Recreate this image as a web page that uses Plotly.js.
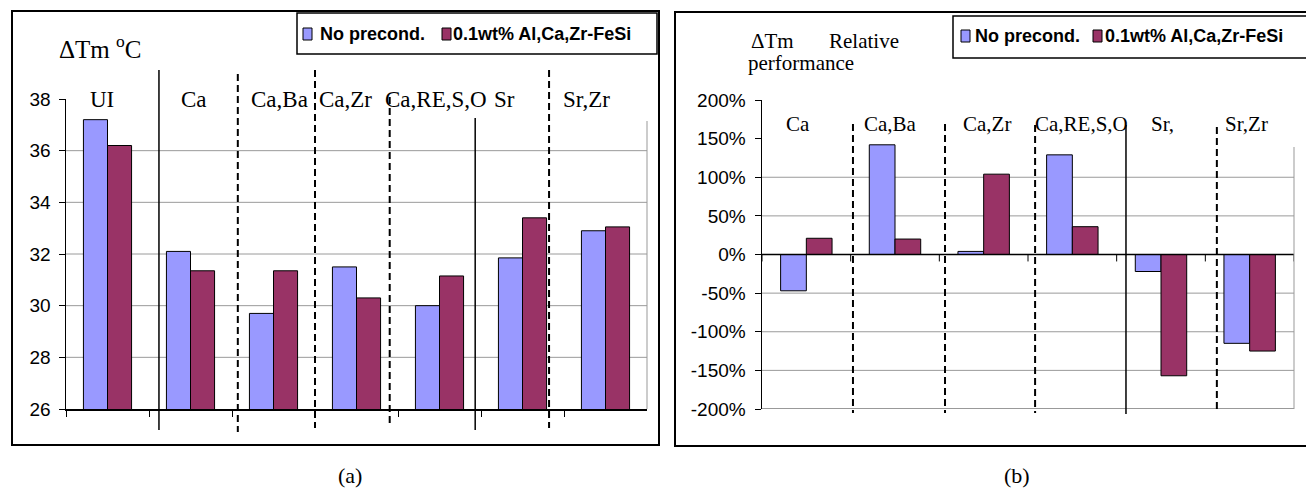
<!DOCTYPE html>
<html><head><meta charset="utf-8">
<script src="https://cdn.plot.ly/plotly-3.0.1.min.js"></script>
<style>html,body{margin:0;padding:0;background:#fff}#chart{width:1306px;height:488px}</style>
</head><body><div id="chart"></div>
<script>
// ---- data ----
const seriesNames = ['No precond.', '0.1wt% Al,Ca,Zr-FeSi'];
const catsA = ['UI', 'Ca', 'Ca,Ba', 'Ca,Zr', 'Ca,RE,S,O', 'Sr', 'Sr,Zr'];
const noPrecondA = [37.2, 32.1, 29.7, 31.5, 30.0, 31.85, 32.9];
const precondA = [36.2, 31.35, 31.35, 30.3, 31.15, 33.4, 33.05];
const catsB = ['Ca', 'Ca,Ba', 'Ca,Zr', 'Ca,RE,S,O', 'Sr,', 'Sr,Zr'];
const noPrecondB = [-47, 142, 4, 129, -22, -115];
const precondB = [21, 20, 104, 36, -157, -125];
const yTicksA = [26, 28, 30, 32, 34, 36, 38];
const gridA = [28, 30, 32, 34, 36];
const yTicksB = [-200, -150, -100, -50, 0, 50, 100, 150, 200];
const yTickTextB = ['-200%', '-150%', '-100%', '-50%', '0%', '50%', '100%', '150%', '200%'];
const gridB = [-200, -150, -100, -50, 50, 100];
const titleA = 'ΔTm <sup>o</sup>C';
const titleB = ['ΔTm', 'Relative', 'performance'];
const captions = ['(a)', '(b)'];

// ---- layout helpers ----
const W = 1306, H = 488;
const px = x => x / W;
const py = y => 1 - y / H;
const BLUE = '#9999FF', RED = '#993366';
const serif = 'Liberation Serif, Times New Roman, serif';
const sans = 'Liberation Sans, Arial, sans-serif';

const traces = [
  {type: 'bar', x: catsA, y: noPrecondA, name: seriesNames[0], xaxis: 'x', yaxis: 'y',
   marker: {color: BLUE, line: {color: '#000', width: 1}}, showlegend: false, hoverinfo: 'skip'},
  {type: 'bar', x: catsA, y: precondA, name: seriesNames[1], xaxis: 'x', yaxis: 'y',
   marker: {color: RED, line: {color: '#000', width: 1}}, showlegend: false, hoverinfo: 'skip'},
  {type: 'bar', x: catsB, y: noPrecondB, name: seriesNames[0], xaxis: 'x2', yaxis: 'y2',
   marker: {color: BLUE, line: {color: '#000', width: 1}}, showlegend: false, hoverinfo: 'skip'},
  {type: 'bar', x: catsB, y: precondB, name: seriesNames[1], xaxis: 'x2', yaxis: 'y2',
   marker: {color: RED, line: {color: '#000', width: 1}}, showlegend: false, hoverinfo: 'skip'}
];

const shapes = [];
const annotations = [];

// frames
shapes.push({type: 'rect', xref: 'paper', yref: 'paper', x0: px(12), x1: px(659), y0: py(11), y1: py(445), line: {color: '#000', width: 2}});
shapes.push({type: 'rect', xref: 'paper', yref: 'paper', x0: px(675), x1: px(1320), y0: py(12), y1: py(446), line: {color: '#000', width: 2}});

// gridlines
gridA.forEach(v => shapes.push({type: 'line', xref: 'x domain', yref: 'y', x0: 0, x1: 1, y0: v, y1: v, layer: 'below', line: {color: '#9a9a9a', width: 1}}));
gridB.forEach(v => shapes.push({type: 'line', xref: 'x2 domain', yref: 'y2', x0: 0, x1: 1, y0: v, y1: v, layer: 'below', line: {color: v === -200 ? '#777' : '#9a9a9a', width: v === -200 ? 1.5 : 1}}));

// category axis of (b) sits at 0 %: axis line + boundary ticks
shapes.push({type: 'line', xref: 'x2 domain', yref: 'y2', x0: 0, x1: 1, y0: 0, y1: 0, layer: 'above', line: {color: '#000', width: 1.5}});
for (let i = 0; i <= catsB.length; i++) {
  shapes.push({type: 'line', xref: 'x2', yref: 'y2', x0: i - 0.5, x1: i - 0.5, y0: 0, y1: -9, layer: 'above', line: {color: '#000', width: 1}});
}

// right plot borders (grey)
shapes.push({type: 'line', xref: 'paper', yref: 'paper', x0: px(647), x1: px(647), y0: py(121), y1: py(409), line: {color: '#999', width: 1}});
shapes.push({type: 'line', xref: 'paper', yref: 'paper', x0: px(1294), x1: px(1294), y0: py(147), y1: py(409), line: {color: '#999', width: 1}});

// dividers (category index positions)
const divA = [[0.62, 70, 430, 'solid'], [1.57, 74, 432, 'dash'], [2.5, 70, 428, 'dash'], [3.4, 97, 424, 'dash'], [4.43, 118, 430, 'solid'], [5.32, 70, 428, 'dash']];
const divB = [[0.526, 124, 413, 'dash'], [1.564, 124, 413, 'dash'], [2.58, 125, 413, 'dash'], [3.605, 125, 414, 'solid'], [4.63, 127, 413, 'dash']];
divA.forEach(d => shapes.push({type: 'line', xref: 'x', yref: 'paper', x0: d[0], x1: d[0], y0: py(d[1]), y1: py(d[2]),
  line: {color: '#000', width: d[3] === 'solid' ? 1.5 : 2, dash: d[3] === 'solid' ? 'solid' : '7px,4px'}}));
divB.forEach(d => shapes.push({type: 'line', xref: 'x2', yref: 'paper', x0: d[0], x1: d[0], y0: py(d[1]), y1: py(d[2]),
  line: {color: '#000', width: d[3] === 'solid' ? 1.5 : 2, dash: d[3] === 'solid' ? 'solid' : '7px,4px'}}));

// category labels
const labA = [102, 194, 279, 345, 436, 504, 586];
const labB = [798, 890, 987, 1081, 1162, 1246];
catsA.forEach((c, i) => annotations.push({xref: 'paper', yref: 'paper', x: px(labA[i]), y: py(99), text: c, showarrow: false,
  xanchor: 'center', yanchor: 'middle', font: {family: serif, size: 23, color: '#000'}}));
catsB.forEach((c, i) => annotations.push({xref: 'paper', yref: 'paper', x: px(labB[i]), y: py(124), text: c, showarrow: false,
  xanchor: 'center', yanchor: 'middle', font: {family: serif, size: 21, color: '#000'}}));

// titles
annotations.push({xref: 'paper', yref: 'paper', x: px(57), y: py(47), text: titleA, showarrow: false, xanchor: 'left', yanchor: 'middle',
  font: {family: serif, size: 25, color: '#000'}});
annotations.push({xref: 'paper', yref: 'paper', x: px(749), y: py(41), text: titleB[0], showarrow: false, xanchor: 'left', yanchor: 'middle',
  font: {family: serif, size: 21, color: '#000'}});
annotations.push({xref: 'paper', yref: 'paper', x: px(827), y: py(41), text: titleB[1], showarrow: false, xanchor: 'left', yanchor: 'middle',
  font: {family: serif, size: 21, color: '#000'}});
annotations.push({xref: 'paper', yref: 'paper', x: px(746), y: py(63), text: titleB[2], showarrow: false, xanchor: 'left', yanchor: 'middle',
  font: {family: serif, size: 21, color: '#000'}});

// captions
annotations.push({xref: 'paper', yref: 'paper', x: px(350), y: py(475), text: captions[0], showarrow: false, xanchor: 'center', yanchor: 'middle',
  font: {family: serif, size: 22, color: '#000'}});
annotations.push({xref: 'paper', yref: 'paper', x: px(1017), y: py(475), text: captions[1], showarrow: false, xanchor: 'center', yanchor: 'middle',
  font: {family: serif, size: 22, color: '#000'}});

// legends (box + swatches + text)
function legend(x0, x1, y0, y1, sw1, tx1, sw2, tx2, yc) {
  shapes.push({type: 'rect', xref: 'paper', yref: 'paper', x0: px(x0), x1: px(x1), y0: py(y0), y1: py(y1), fillcolor: '#fff', line: {color: '#000', width: 1.5}});
  [[sw1, BLUE, tx1, seriesNames[0]], [sw2, RED, tx2, seriesNames[1]]].forEach(s => {
    shapes.push({type: 'rect', xref: 'paper', yref: 'paper', x0: px(s[0]), x1: px(s[0] + 9), y0: py(yc - 6), y1: py(yc + 6), fillcolor: s[1], line: {color: '#000', width: 1}});
    annotations.push({xref: 'paper', yref: 'paper', x: px(s[2]), y: py(yc), text: '<b>' + s[3] + '</b>', showarrow: false, xanchor: 'left', yanchor: 'middle',
      font: {family: sans, size: 18, color: '#000'}});
  });
}
legend(297, 657, 13, 54, 303, 318, 442, 451, 34);
legend(953, 1320, 16, 58, 961, 973, 1093, 1103, 36);

const axisCommon = {showline: true, linecolor: '#000', linewidth: 1.5, ticks: 'outside', tickcolor: '#000', tickwidth: 1,
  showgrid: false, zeroline: false, fixedrange: true};

const layout = {
  width: W, height: H, autosize: false,
  margin: {l: 0, r: 0, t: 0, b: 0, pad: 0},
  paper_bgcolor: '#fff', plot_bgcolor: 'rgba(0,0,0,0)',
  showlegend: false, barmode: 'group', bargap: 0.42, bargroupgap: 0,
  xaxis: Object.assign({}, axisCommon, {domain: [px(66), px(647)], type: 'category', range: [-0.5, 6.5], tickson: 'boundaries', ticklen: 6,
    showticklabels: false, anchor: 'y'}),
  yaxis: Object.assign({}, axisCommon, {domain: [py(409), py(99)], range: [26, 38], tickmode: 'array', tickvals: yTicksA, ticklen: 6,
    tickfont: {family: sans, size: 19, color: '#000'}, ticklabelstandoff: 4, anchor: 'x'}),
  xaxis2: Object.assign({}, axisCommon, {domain: [px(762), px(1294)], type: 'category', range: [-0.5, 5.5], showline: false, ticks: '',
    showticklabels: false, anchor: 'y2'}),
  yaxis2: Object.assign({}, axisCommon, {domain: [py(409), py(100)], range: [-200, 200], tickmode: 'array', tickvals: yTicksB, ticktext: yTickTextB, ticklen: 6,
    tickfont: {family: sans, size: 19, color: '#000'}, ticklabelstandoff: 5, anchor: 'x2'}),
  shapes: shapes,
  annotations: annotations
};

Plotly.newPlot('chart', traces, layout, {displayModeBar: false, staticPlot: true});
</script>
</body></html>
